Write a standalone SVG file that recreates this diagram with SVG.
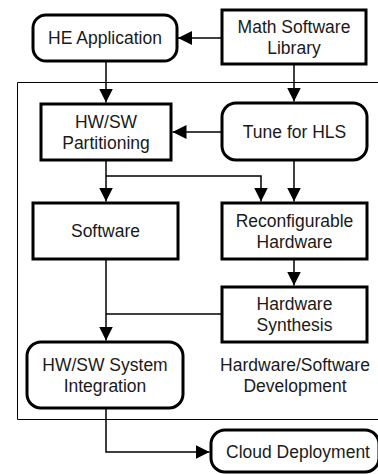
<svg xmlns="http://www.w3.org/2000/svg" width="378" height="474" viewBox="0 0 378 474">
<style>
.box{fill:#fff;stroke:#000;stroke-width:3}
.t{font-family:"Liberation Sans",Arial,sans-serif;font-size:17.5px;fill:#1a1a1a;text-anchor:middle}
.c{fill:none;stroke:#000;stroke-width:1.5}
.frame{fill:none;stroke:#000;stroke-width:1}
</style>
<defs>
<marker id="ah" markerUnits="userSpaceOnUse" markerWidth="14" markerHeight="14" refX="14" refY="7" orient="auto">
<path d="M0,0 L14,7 L0,14 z" fill="#000"/>
</marker>
</defs>
<g id="container">
<path class="frame" d="M378,82.5 H17.5 V419.5 H378"/>
<text class="t" x="295" y="371">Hardware/Software</text>
<text class="t" x="295" y="392">Development</text>
</g>
<g id="connectors">
<path class="c" d="M222,38 H178" marker-end="url(#ah)"/>
<path class="c" d="M106,61 V102.5" marker-end="url(#ah)"/>
<path class="c" d="M294,64 V101.5" marker-end="url(#ah)"/>
<path class="c" d="M222,132 H172.5" marker-end="url(#ah)"/>
<path class="c" d="M106,160 V201.5" marker-end="url(#ah)"/>
<path class="c" d="M106,176 H261 V201.5" marker-end="url(#ah)"/>
<path class="c" d="M294,160 V201.5" marker-end="url(#ah)"/>
<path class="c" d="M294,259 V285.5" marker-end="url(#ah)"/>
<path class="c" d="M106,259 V340.5" marker-end="url(#ah)"/>
<path class="c" d="M222,314 H106"/>
<path class="c" d="M106,408 V452 H209.5" marker-end="url(#ah)"/>
</g>
<g id="he-application">
<rect class="box" x="33" y="15" width="144" height="46" rx="13"/>
<text class="t" x="105" y="44">HE Application</text>
</g>
<g id="math-library">
<rect class="box" x="222" y="10" width="144" height="54"/>
<text class="t" x="294" y="33">Math Software</text>
<text class="t" x="294" y="54">Library</text>
</g>
<g id="partitioning">
<rect class="box" x="41" y="104" width="130" height="56"/>
<text class="t" x="106" y="128">HW/SW</text>
<text class="t" x="106" y="149">Partitioning</text>
</g>
<g id="tune-hls">
<rect class="box" x="222" y="103" width="145" height="57" rx="14"/>
<text class="t" x="294.5" y="138">Tune for HLS</text>
</g>
<g id="software">
<rect class="box" x="33" y="203" width="145" height="56"/>
<text class="t" x="105.5" y="237">Software</text>
</g>
<g id="reconfigurable">
<rect class="box" x="222" y="203" width="145" height="56"/>
<text class="t" x="294.5" y="227">Reconfigurable</text>
<text class="t" x="294.5" y="248">Hardware</text>
</g>
<g id="synthesis">
<rect class="box" x="222" y="287" width="145" height="55"/>
<text class="t" x="294.5" y="310">Hardware</text>
<text class="t" x="294.5" y="331">Synthesis</text>
</g>
<g id="integration">
<rect class="box" x="27" y="342" width="156" height="66" rx="14"/>
<text class="t" x="105" y="371">HW/SW System</text>
<text class="t" x="105" y="392">Integration</text>
</g>
<g id="cloud">
<rect class="box" x="211" y="430" width="168" height="42" rx="14"/>
<text class="t" x="298" y="458">Cloud Deployment</text>
</g>
</svg>
